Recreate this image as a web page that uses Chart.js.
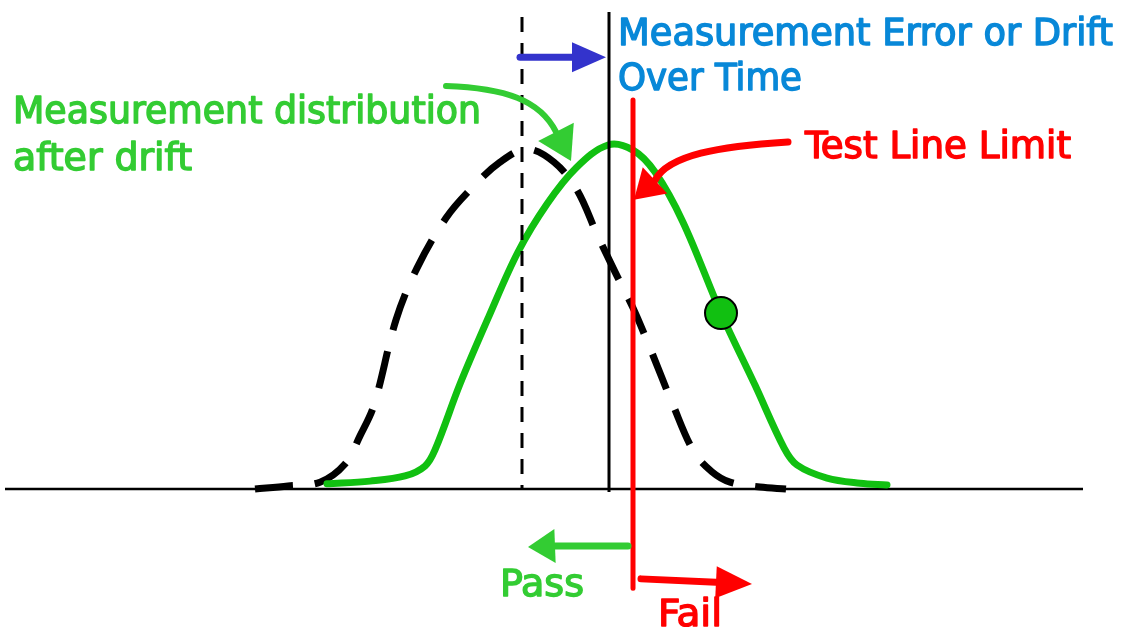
<!DOCTYPE html>
<html><head><meta charset="utf-8">
<script src="https://cdn.jsdelivr.net/npm/chart.js@4/dist/chart.umd.min.js"></script>
<style>html,body{margin:0;padding:0;background:#fff;overflow:hidden}#wrap{width:1122px;height:627px}</style>
</head><body><div id="wrap"><canvas id="c" width="1122" height="627"></canvas></div>
<script>
// Original measurement distribution (dashed black)
const originalX = [-3.54,-3.21,-2.89,-2.64,-2.49,-2.35,-2.13,-1.92,-1.63,-1.37,-1.09,-0.82,-0.55,-0.32,-0.12,0.06,0.24,0.41,0.64,0.85,1.03,1.21,1.51,1.77];
const originalY = [0.0,0.009,0.020,0.073,0.155,0.245,0.493,0.644,0.790,0.878,0.953,0.991,0.953,0.872,0.743,0.633,0.528,0.411,0.245,0.108,0.050,0.020,0.006,0.0];
// Distribution after drift (green)
const driftedX = [-2.82,-2.39,-2.04,-1.84,-1.74,-1.49,-1.20,-0.91,-0.62,-0.33,-0.01,0.24,0.46,0.74,1.12,1.46,1.75,1.88,2.18,2.51,2.78];
const driftedY = [0.015,0.023,0.038,0.067,0.114,0.306,0.504,0.691,0.831,0.936,1.003,0.988,0.924,0.778,0.513,0.303,0.120,0.070,0.032,0.017,0.012];
// Highlighted point on drifted curve
const markerX = [1.12];
const markerY = [0.513];
// Reference lines
const previousMean = -0.87;
const nominalMean = 0;
const testLimit = 0.24;
// Text labels
const labels = {
  drift1: "Measurement Error or Drift",
  drift2: "Over Time",
  limit: "Test Line Limit",
  dist1: "Measurement distribution",
  dist2: "after drift",
  pass: "Pass",
  fail: "Fail"
};

const toPts = (xs, ys) => xs.map((x, i) => ({x, y: ys[i]}));

const overlay = {
  id: 'overlay',
  afterDatasetsDraw(chart) {
    const ctx = chart.ctx;
    const X = v => chart.scales.x.getPixelForValue(v);
    const Y = v => chart.scales.y.getPixelForValue(v);
    function head(tx, ty, bx, by, half, color) {
      const dx = tx - bx, dy = ty - by, L = Math.hypot(dx, dy);
      const px = -dy / L * half, py = dx / L * half;
      ctx.fillStyle = color;
      ctx.beginPath();
      ctx.moveTo(tx, ty); ctx.lineTo(bx + px, by + py); ctx.lineTo(bx - px, by - py);
      ctx.closePath(); ctx.fill();
    }
    function straight(x0, y0, xb, yb, xt, yt, color, w, half) {
      ctx.save();
      ctx.strokeStyle = color; ctx.lineWidth = w; ctx.lineCap = 'round';
      ctx.beginPath(); ctx.moveTo(X(x0), Y(y0)); ctx.lineTo(X(xb), Y(yb)); ctx.stroke();
      head(X(xt), Y(yt), X(xb), Y(yb), half, color);
      ctx.restore();
    }
    function curved(p, color, w, half) {
      ctx.save();
      ctx.strokeStyle = color; ctx.lineWidth = w; ctx.lineCap = 'round';
      ctx.beginPath();
      ctx.moveTo(X(p[0]), Y(p[1]));
      ctx.bezierCurveTo(X(p[2]), Y(p[3]), X(p[4]), Y(p[5]), X(p[6]), Y(p[7]));
      ctx.stroke();
      head(X(p[8]), Y(p[9]), X(p[6]), Y(p[7]), half, color);
      ctx.restore();
    }
    // arrows
    straight(-0.89, 1.259, -0.37, 1.259, -0.03, 1.259, '#3333cc', 7, 15);
    straight(0.19, -0.166, -0.54, -0.166, -0.81, -0.169, '#33cc33', 7, 17);
    straight(0.32, -0.262, 1.07, -0.272, 1.43, -0.277, '#ff0000', 7, 16);
    curved([-1.63, 1.175, -1.04, 1.169, -0.69, 1.134, -0.53, 1.041, -0.38, 0.956], '#33cc33', 6, 20);
    curved([1.79, 1.012, 1.11, 1.0, 0.59, 0.974, 0.46, 0.900, 0.25, 0.843], '#ff0000', 7, 18);
    // text
    function txt(s, xu, yu, target, size, color) {
      ctx.save();
      ctx.font = size + 'px "DejaVu Sans Condensed", "DejaVu Sans", sans-serif';
      ctx.fillStyle = color; ctx.strokeStyle = color; ctx.lineWidth = 1.3; ctx.lineJoin = 'round';
      ctx.textAlign = 'left'; ctx.textBaseline = 'alphabetic';
      const w = ctx.measureText(s).width;
      ctx.translate(X(xu), Y(yu));
      ctx.scale(target / w, 1);
      ctx.fillText(s, 0, 0);
      ctx.strokeText(s, 0, 0);
      ctx.restore();
    }
    txt(labels.drift1, 0.09, 1.2944, 495, 37, '#0888d8');
    txt(labels.drift2, 0.09, 1.1633, 184, 37, '#0888d8');
    txt(labels.limit, 1.96, 0.965, 266, 37, '#ff0000');
    txt(labels.dist1, -5.96, 1.067, 468, 37, '#33cc33');
    txt(labels.dist2, -5.96, 0.930, 179, 37, '#33cc33');
    txt(labels.pass, -1.09, -0.312, 84, 37, '#33cc33');
    txt(labels.fail, 0.49, -0.399, 64, 37, '#ff0000');
  }
};

new Chart(document.getElementById('c'), {
  type: 'scatter',
  data: {
    datasets: [
      {data: [{x: -6.04, y: 0}, {x: 4.74, y: 0}], showLine: true, borderColor: '#000', borderWidth: 2.5, pointRadius: 0, order: 10},
      {data: toPts(originalX, originalY), showLine: true, borderColor: '#000', borderWidth: 7, borderDash: [38, 22], pointRadius: 0, tension: 0.35, order: 8},
      {data: toPts(driftedX, driftedY), showLine: true, borderColor: '#11c011', borderWidth: 7, pointRadius: 0, tension: 0.35, borderCapStyle: 'round', order: 7},
      {data: [{x: previousMean, y: 1.376}, {x: previousMean, y: 0}], showLine: true, borderColor: '#000', borderWidth: 3, borderDash: [15, 11], pointRadius: 0, order: 6},
      {data: [{x: nominalMean, y: 1.391}, {x: nominalMean, y: -0.009}], showLine: true, borderColor: '#000', borderWidth: 3, pointRadius: 0, order: 5},
      {data: toPts(markerX, markerY), showLine: false, backgroundColor: '#11c011', borderColor: '#000', borderWidth: 2, pointRadius: 16, order: 4},
      {data: [{x: testLimit, y: 1.134}, {x: testLimit, y: -0.289}], showLine: true, borderColor: '#ff0000', borderWidth: 5, borderCapStyle: 'round', pointRadius: 0, order: 3}
    ]
  },
  options: {
    responsive: false, animation: false,
    layout: {padding: 0, autoPadding: false},
    plugins: {legend: {display: false}, tooltip: {enabled: false}},
    elements: {line: {clip: false}},
    scales: {
      x: {type: 'linear', min: -6.09, max: 5.13, display: false},
      y: {type: 'linear', min: -0.4023, max: 1.4257, display: false}
    }
  },
  plugins: [overlay]
});
</script></body></html>
